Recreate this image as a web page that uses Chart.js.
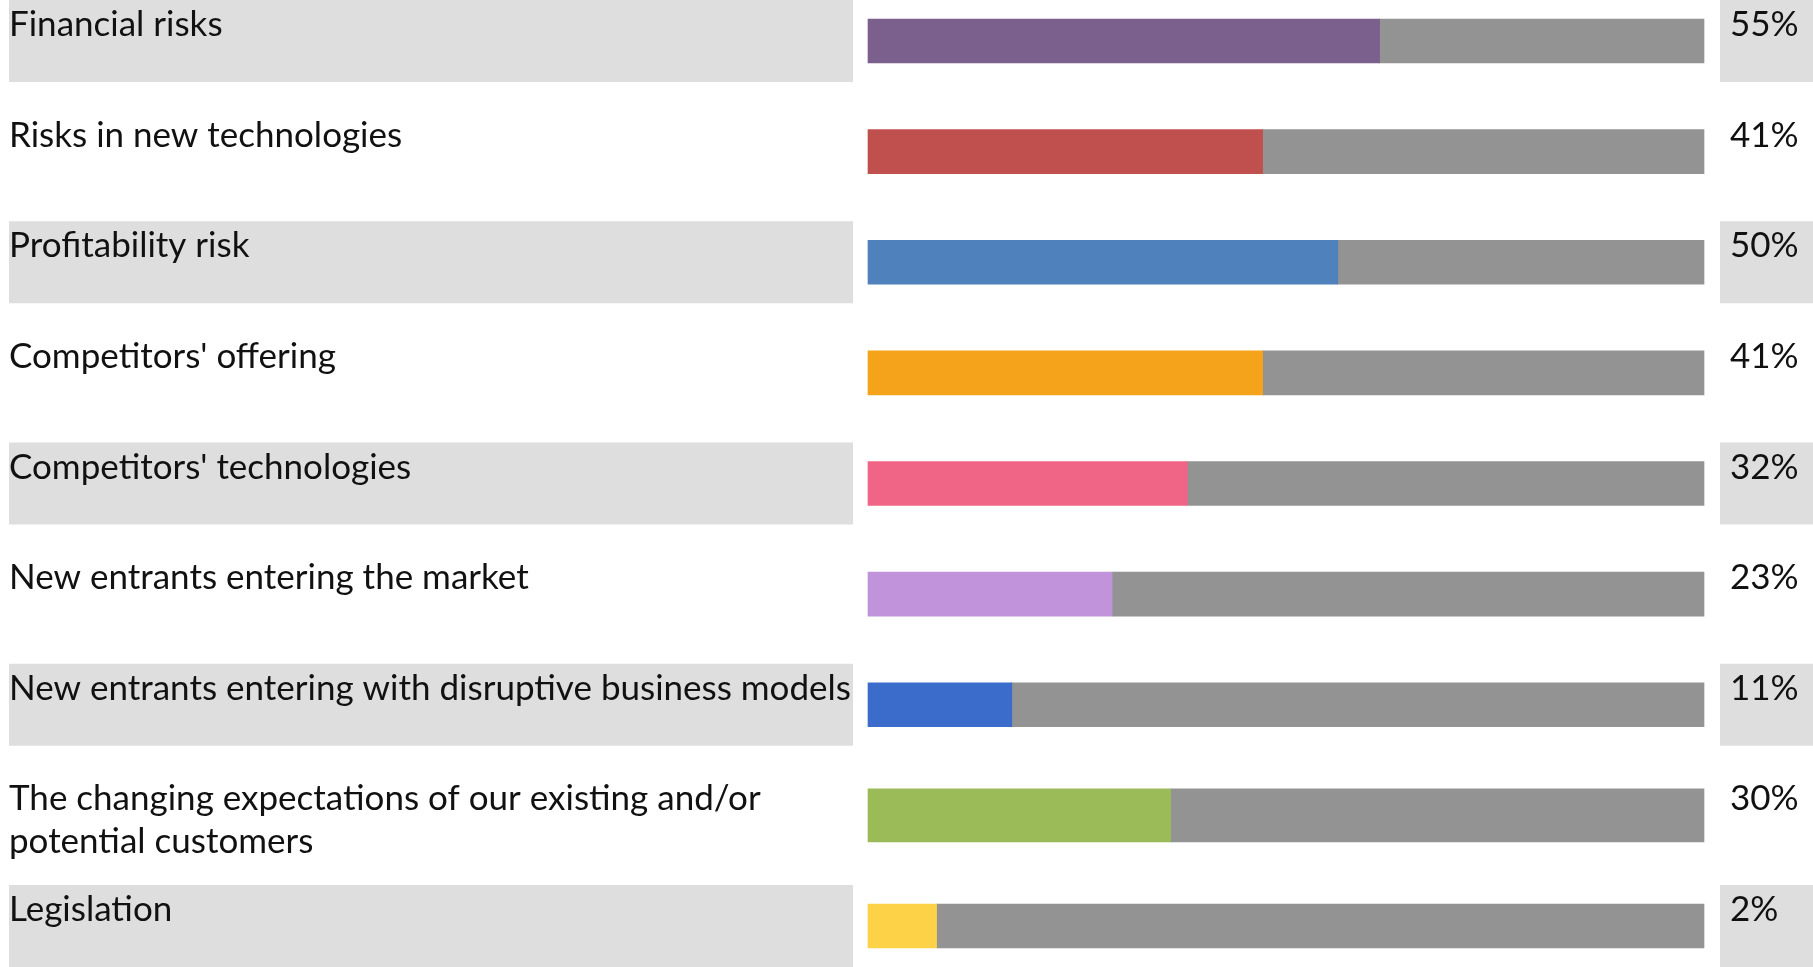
<!DOCTYPE html>
<html>
<head>
<meta charset="utf-8">
<script src="https://cdn.jsdelivr.net/npm/chart.js@4/dist/chart.umd.min.js"></script>
<style>
  html, body { margin: 0; padding: 0; background: #fff; }
  canvas { display: block; }
</style>
</head>
<body>
<canvas id="riskChart" width="1813" height="967"></canvas>
<script>
const labels = [
    'Financial risks',
    'Risks in new technologies',
    'Profitability risk',
    "Competitors' offering",
    "Competitors' technologies",
    'New entrants entering the market',
    'New entrants entering with disruptive business models',
    ['The changing expectations of our existing and/or', 'potential customers'],
    'Legislation'
]

const shares = [55, 41, 50, 41, 32, 23, 11, 30, 2]

const barColors = [
    '#7b5f8c', // purple
    '#c0504d', // red
    '#4f81bd', // blue
    '#f5a31a', // orange
    '#f06485', // pink
    '#c093db', // lavender
    '#3c6ccb', // royal blue
    '#9bbb59', // green
    '#fdd246'  // yellow
]

const trackColor = '#939393'
const bandColor = '#dedede'

// x scale runs over a 100 point window that starts a little below zero
const AXIS_START = -6.2
const AXIS_END = AXIS_START + 100

const FONT = '35px Lato'

// rows with a wrapped label get a thicker bar
const isWrapped = i => Array.isArray(labels[i])

function barPair(wrapped, thickness) {
    const pick = (i, val) => (isWrapped(i) === wrapped ? val : null)
    return [
        {
            label: 'share',
            data: shares.map((v, i) => pick(i, [AXIS_START, v])),
            backgroundColor: barColors,
            barThickness: thickness,
            clip: false
        },
        {
            label: 'rest',
            data: shares.map((v, i) => pick(i, [v, AXIS_END])),
            backgroundColor: trackColor,
            barThickness: thickness,
            clip: false
        }
    ]
}

// gray bands behind every other row, row labels and percentages
const rowDecor = {
    id: 'rowDecor',
    beforeDatasetsDraw(chart) {
        const ctx = chart.ctx
        const y = chart.scales.y
        ctx.save()
        ctx.fillStyle = bandColor
        labels.forEach((_, i) => {
            if (i % 2) return
            const top = y.getPixelForValue(i) - 41
            ctx.fillRect(9, top, 844, 82)
            ctx.fillRect(1720, top, 93, 82)
        })
        ctx.restore()
    },
    afterDraw(chart) {
        const ctx = chart.ctx
        const y = chart.scales.y
        ctx.save()
        ctx.font = FONT
        ctx.fillStyle = '#111'
        ctx.textBaseline = 'alphabetic'
        ctx.textAlign = 'left'
        labels.forEach((lab, i) => {
            const top = y.getPixelForValue(i) - 41
            const lines = Array.isArray(lab) ? lab : [lab]
            lines.forEach((line, k) => ctx.fillText(line, 9, top + 36 + k * 43))
            ctx.fillText(shares[i] + '%', 1730, top + 36)
        })
        ctx.restore()
    }
}

const config = {
    type: 'bar',
    data: {
        labels: labels,
        datasets: [...barPair(false, 44), ...barPair(true, 53)]
    },
    options: {
        indexAxis: 'y',
        responsive: false,
        animation: false,
        devicePixelRatio: 1,
        grouped: false,
        layout: {
            padding: { left: 868, right: 109, top: 41, bottom: 41 }
        },
        scales: {
            x: { type: 'linear', min: AXIS_START, max: AXIS_END, display: false },
            y: { type: 'category', offset: false, display: false }
        },
        plugins: {
            legend: { display: false },
            tooltip: { enabled: false }
        }
    },
    plugins: [rowDecor]
}

new Chart(document.getElementById('riskChart').getContext('2d'), config)
</script>
</body>
</html>
